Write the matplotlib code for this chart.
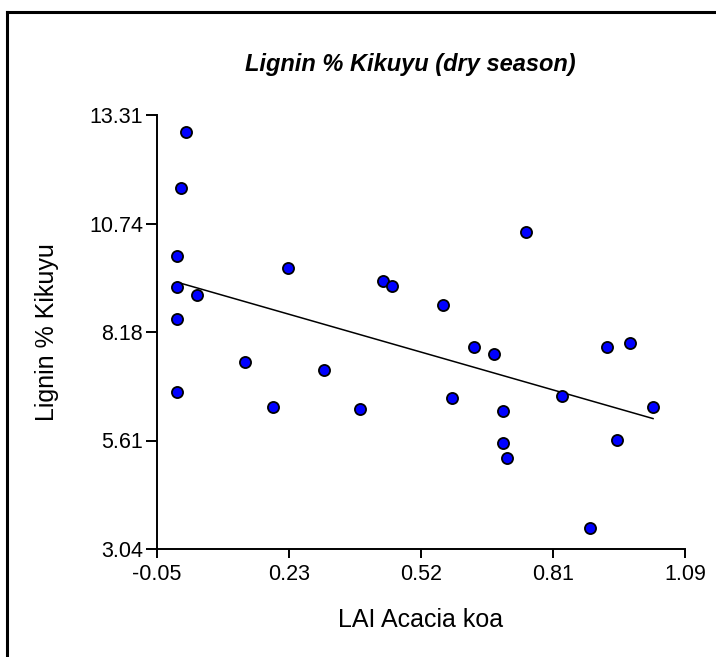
import numpy as np
import matplotlib
matplotlib.use("Agg")
from matplotlib import pyplot as plt
from matplotlib.lines import Line2D

# LAI of Acacia koa vs lignin % in Kikuyu grass (dry season)
lai = [0.012, 0.002, -0.006, -0.006, 0.036, 0.232, -0.006, 0.141, -0.006,
       0.200, 0.310, 0.746, 0.439, 0.458, 0.568, 0.635, 0.677, 0.388,
       0.586, 0.696, 0.696, 0.705, 0.921, 0.972, 0.825, 1.021, 0.944, 0.884]
lignin = [12.90, 11.59, 9.98, 9.23, 9.04, 9.68, 8.48, 7.46, 6.76,
          6.41, 7.27, 10.53, 9.38, 9.27, 8.82, 7.82, 7.66, 6.36,
          6.61, 6.31, 5.56, 5.20, 7.82, 7.91, 6.66, 6.41, 5.61, 3.54]

x_ticks = [-0.05, 0.235, 0.52, 0.805, 1.09]
x_labels = ["-0.05", "0.23", "0.52", "0.81", "1.09"]
y_ticks = [3.04, 5.6075, 8.175, 10.7425, 13.31]
y_labels = ["3.04", "5.61", "8.18", "10.74", "13.31"]

plt.rcParams['font.family'] = ['Liberation Sans', 'DejaVu Sans']

fig = plt.figure(figsize=(7.16, 6.57), dpi=100)
ax = fig.add_axes([157 / 716, 1 - 549 / 657, 528 / 716, 434 / 657])

# least squares line across the data range
slope, icept = np.polyfit(lai, lignin, 1)
xl = np.array([min(lai), max(lai)])
ax.plot(xl, slope * xl + icept, color='black', lw=1.1, zorder=2)

ax.plot(lai, lignin, 'o', ms=8, mfc='#0000ff', mec='black', mew=1.3,
        clip_on=False, zorder=3)

ax.set_xlim(-0.05, 1.09)
ax.set_ylim(3.04, 13.31)
ax.set_xticks(x_ticks)
ax.set_xticklabels(x_labels)
ax.set_yticks(y_ticks)
ax.set_yticklabels(y_labels)

for s in ['top', 'right']:
    ax.spines[s].set_visible(False)
for s in ['left', 'bottom']:
    ax.spines[s].set_linewidth(1.4)
ax.tick_params(axis='both', labelsize=15.5, width=1.4, colors='black')
ax.tick_params(axis='y', length=8, pad=2)
ax.tick_params(axis='x', length=6.5, pad=4)

ax.set_xlabel("LAI Acacia koa", fontsize=18, labelpad=17)
ax.set_ylabel("Lignin % Kikuyu", fontsize=18, labelpad=22)
ax.set_title("Lignin % Kikuyu (dry season)", fontsize=17, fontweight='bold',
             style='italic', pad=32, x=0.48)

# outer frame (left and top edges visible)
fig.add_artist(Line2D([6.5 / 716, 6.5 / 716], [0, 1 - 11.5 / 657],
                      transform=fig.transFigure, color='black', lw=2.2))
fig.add_artist(Line2D([6.5 / 716, 1], [1 - 11.5 / 657, 1 - 11.5 / 657],
                      transform=fig.transFigure, color='black', lw=2.2))

fig.savefig("out.png", dpi=100)
